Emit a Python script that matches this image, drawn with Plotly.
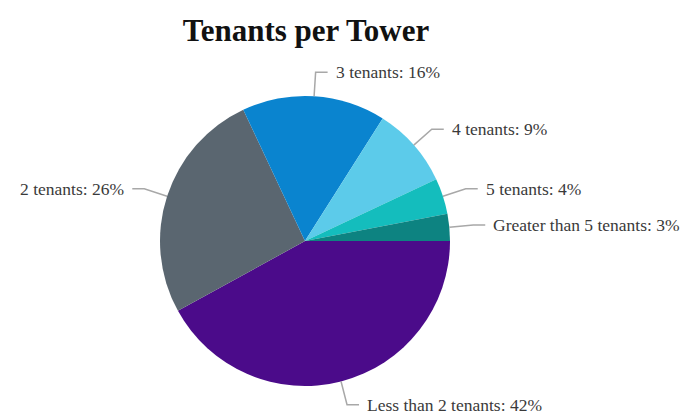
import math
import plotly.graph_objects as go

categories = ["Less than 2 tenants", "2 tenants", "3 tenants", "4 tenants", "5 tenants", "Greater than 5 tenants"]
values = [42, 26, 16, 9, 4, 3]
colors = ["#4B0B8A", "#5A6670", "#0A84CF", "#5CCBEA", "#14BDBD", "#0D8381"]

W, H = 688, 415
CX, CY, R = 305, 241, 145  # pie centre/radius in window pixels
RADIAL, HORIZ, GAP = 24, 12, 6

def px(x):
    return x / W

def py(y):
    return 1 - y / H

fig = go.Figure(go.Pie(
    labels=categories, values=values, sort=False, direction="clockwise", rotation=90,
    marker=dict(colors=colors, line=dict(width=0)), textinfo="none", hoverinfo="label+percent",
    domain=dict(x=[px(CX - R), px(CX + R)], y=[py(CY + R), py(CY - R)]),
    showlegend=False,
))

total = sum(values)
cum = 0
shapes, annotations = [], []
for lab, v in zip(categories, values):
    mid = -(cum + v / 2) / total * 2 * math.pi
    cum += v
    c, s = math.cos(mid), math.sin(mid)
    x0, y0 = CX + R * c, CY - R * s
    x1, y1 = CX + (R + RADIAL) * c, CY - (R + RADIAL) * s
    side = 1 if c >= 0 else -1
    x2 = x1 + side * HORIZ
    path = f"M {px(x0)} {py(y0)} L {px(x1)} {py(y1)} L {px(x2)} {py(y1)}"
    shapes.append(dict(type="path", xref="paper", yref="paper", path=path,
                       line=dict(color="#A8A8A8", width=1.5)))
    pct = round(v / total * 100)
    annotations.append(dict(
        x=px(x2 + side * GAP), y=py(y1), xref="paper", yref="paper",
        text=f"{lab}: {pct}%", showarrow=False,
        xanchor="left" if side > 0 else "right", yanchor="middle",
        font=dict(family="Liberation Serif", size=17.5, color="#3A3A3A"),
    ))

fig.update_layout(
    width=W, height=H,
    margin=dict(l=0, r=0, t=0, b=0),
    paper_bgcolor="white", plot_bgcolor="white",
    title=dict(text="<b>Tenants per Tower</b>", x=px(306), y=py(30), xanchor="center", yanchor="middle",
               xref="paper", yref="paper",
               font=dict(family="Liberation Serif", size=31, color="#111111")),
    shapes=shapes, annotations=annotations,
)

fig.write_html("out.html", config={"displayModeBar": False},
               post_script="document.body.style.margin='0';document.body.style.overflow='hidden';")
